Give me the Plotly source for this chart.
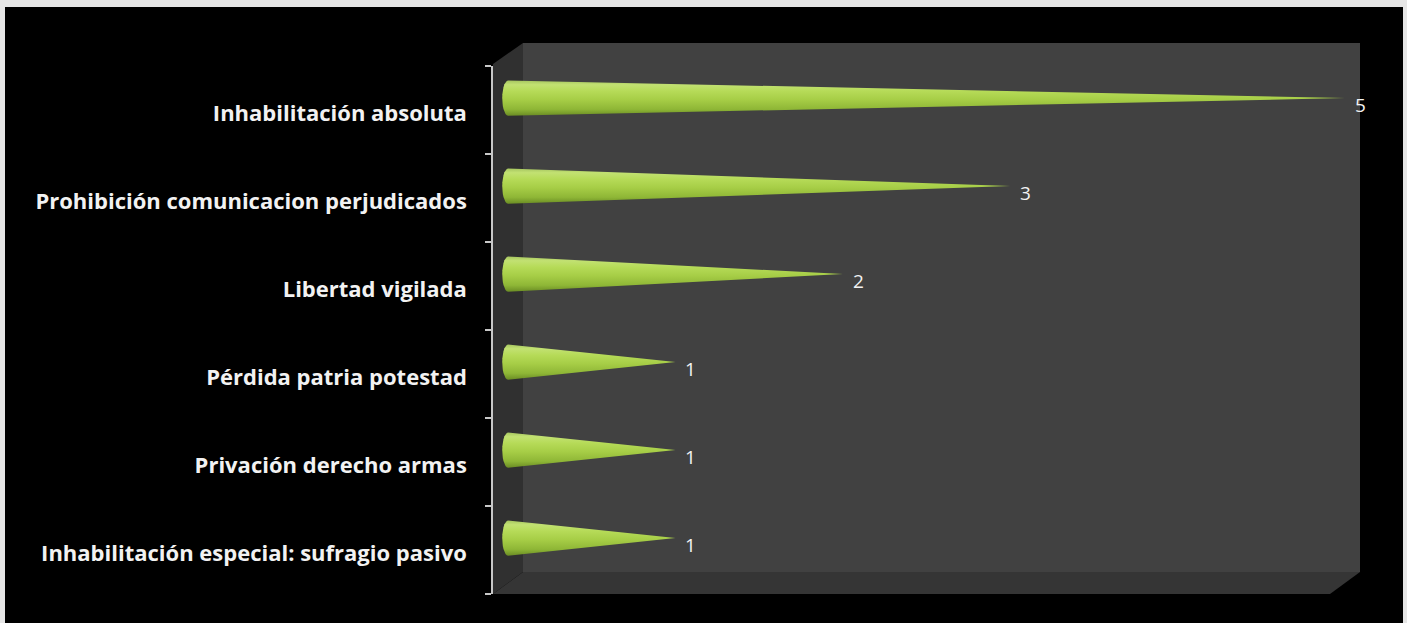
import numpy as np
import plotly.graph_objects as go

categories = [
    "Inhabilitación absoluta",
    "Prohibición comunicacion perjudicados",
    "Libertad vigilada",
    "Pérdida patria potestad",
    "Privación derecho armas",
    "Inhabilitación especial: sufragio pasivo",
]
values = [5, 3, 2, 1, 1, 1]

W, H = 1407, 623
L, R, T, B = 493, 1360, 66, 594


def pxx(x):
    return (x - L) / (R - L)


def pyy(y):
    return (B - y) / (B - T)


n = len(categories)
ypos = [n - 1 - i for i in range(n)]  # top category highest
cone_half = 0.2
cone_lift = 0.135
cap_w = 0.035

fig = go.Figure()

green_scale = [
    [0.0, "#6a8c24"],
    [0.18, "#8eb636"],
    [0.45, "#a6cd46"],
    [0.7, "#b6db58"],
    [0.88, "#c2e172"],
    [1.0, "#a6c660"],
]

theta = np.linspace(np.pi / 2, 3 * np.pi / 2, 15)
for cat, v, yc in zip(categories, values, ypos):
    c = yc + cone_lift
    cap_x = cap_w * np.cos(theta)
    cap_y = c + cone_half * np.sin(theta)
    xs = [0, v] + list(cap_x[::-1]) + [0]
    ys = [c + cone_half, c] + list(cap_y[::-1]) + [c + cone_half]
    fig.add_trace(go.Scatter(
        x=xs, y=ys, mode="lines", fill="toself",
        line=dict(width=0, color="rgba(0,0,0,0)"),
        fillgradient=dict(type="vertical", colorscale=green_scale),
        hoverinfo="skip", showlegend=False,
    ))
    fig.add_annotation(
        x=v, y=c, text=str(v), showarrow=False, xanchor="left", yanchor="middle",
        xshift=8, yshift=-7,
        font=dict(family="Open Sans, sans-serif", size=19, color="#f2f2f2"),
    )

shapes = []
shapes.append(dict(type="rect", xref="paper", yref="paper",
                   x0=pxx(5), x1=pxx(1403), y0=pyy(630), y1=pyy(7),
                   fillcolor="#000000", line=dict(width=0), layer="below"))
shapes.append(dict(type="rect", xref="paper", yref="paper",
                   x0=pxx(523), x1=pxx(1360), y0=pyy(572), y1=pyy(43),
                   fillcolor="#414141", line=dict(width=0), layer="below"))
shapes.append(dict(type="path", xref="paper", yref="paper",
                   path=f"M {pxx(493)} {pyy(64)} L {pxx(523)} {pyy(43)} L {pxx(523)} {pyy(572)} L {pxx(493)} {pyy(594)} Z",
                   fillcolor="#303030", line=dict(width=0), layer="below"))
shapes.append(dict(type="path", xref="paper", yref="paper",
                   path=f"M {pxx(493)} {pyy(594)} L {pxx(523)} {pyy(572)} L {pxx(1360)} {pyy(572)} L {pxx(1330)} {pyy(594)} Z",
                   fillcolor="#353535", line=dict(width=0), layer="below"))

fig.update_layout(
    width=W, height=H,
    margin=dict(l=L, r=W - R, t=T, b=H - B, pad=0),
    paper_bgcolor="#e6e6e6",
    plot_bgcolor="rgba(0,0,0,0)",
    shapes=shapes,
    showlegend=False,
)
fig.update_xaxes(range=[-0.09, 5.09], visible=False, showgrid=False, zeroline=False)
fig.update_yaxes(
    range=[-0.5, n - 0.5],
    tickmode="array", tickvals=ypos, ticktext=categories,
    ticks="", showgrid=False, zeroline=False,
    showline=True, linecolor="#c8c8c8", linewidth=1.5,
    ticklabelstandoff=20, ticklabelshift=3,
    tickfont=dict(family="Open Sans, sans-serif", size=22, color="#f2f2f2", weight="bold"),
    minor=dict(tickmode="array", tickvals=[k - 0.5 for k in range(n + 1)],
               ticks="outside", ticklen=6, tickcolor="#c8c8c8", tickwidth=1.5, showgrid=False),
)

fig.write_html(
    "out.html",
    config={"displayModeBar": False},
    post_script="document.body.style.margin='0';document.body.style.overflow='hidden';",
)
